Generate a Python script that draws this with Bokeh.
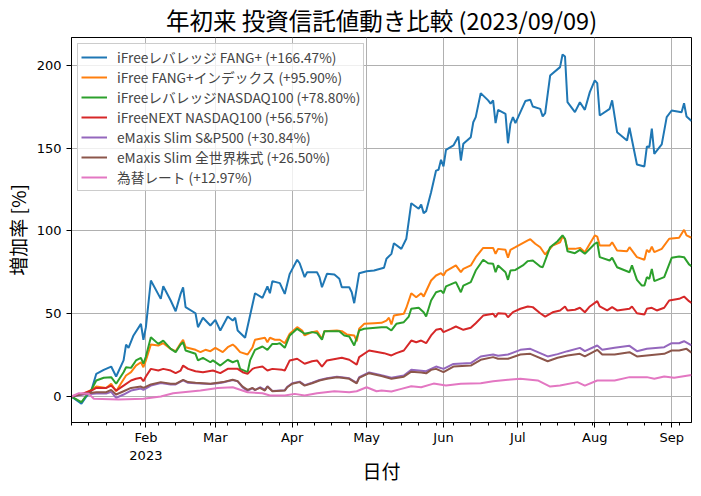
import pandas as pd
from bokeh.plotting import figure
from bokeh.models import Range1d, FixedTicker, Legend, LegendItem
from bokeh.embed import file_html
from bokeh.resources import INLINE

# ---------------- data ----------------
start_date = "2023-01-01"          # day 0 of the day offsets below
x_start, x_end = "2023-01-02", "2023-09-09"
title_text = "年初来 投資信託値動き比較 (2023/09/09)"
x_label = "日付"
y_label = "増加率 [%]"

series_names = ["iFreeレバレッジ FANG+", "iFree FANG+インデックス", "iFreeレバレッジNASDAQ100",
                "iFreeNEXT NASDAQ100", "eMaxis Slim S&P500", "eMaxis Slim 全世界株式", "為替レート"]
final_pct = [166.47, 95.90, 78.80, 56.57, 30.84, 26.50, 12.97]
colors = ["#1f77b4", "#ff7f0e", "#2ca02c", "#d62728", "#9467bd", "#8c564b", "#e377c2"]

blue_day = [1,5,7,9,11,14,17,19,22,23,24,26,29,30,31,33,37,38,41,43,45,46,47,51,52,54,57,59,61,64,
            66,67,68,71,73,75,78,80,81,82,85,87,89,92,93,95,96,100,101,102,104,107,109,110,113,114,115,117,120,123,
            127,128,130,131,134,136,138,141,142,143,144,146,148,149,150,151,152,155,157,158,159,162,163,164,166,169,170,171,172,173,
            176,177,178,179,180,184,186,187,190,191,192,194,198,199,200,201,204,206,208,210,212,213,214,218,219,221,225,226,229,232,
            233,234,235,236,239,241,243,247,248,249,251]
blue_val = [0,-4.4,0,3.6,13.7,16.1,18.1,12.1,21.8,31.4,29.4,36.9,43.9,34.3,41.9,70.1,59,66.6,58,51.5,
            62,66,54,50.3,41.9,47.6,42.9,46.3,39.9,48.3,45.9,47.6,39.9,35.5,48.9,62.4,59.6,66.5,62.4,69.7,
            68.5,62,74.1,82.6,80.5,72.1,75.1,75.1,72.1,66,74.1,73.7,71.1,66,66,63,56.4,74.5,75.7,76.1,
            77.8,83.2,86.2,92.6,89.2,95.3,116.8,113.4,116,110.8,112,123.4,136.5,137,143,139,149,151.7,157.1,142.6,
            152.7,156.7,165.7,168.8,183.3,178.9,176.9,178.9,165.2,173.2,170.8,153,164.8,168.8,165.2,178.5,179.3,175.2,173.8,169.2,
            171.2,193.9,199,206.6,205.4,177.8,171.8,177.8,173.2,183.9,191,189.3,169.8,173.8,178.9,159.7,154.7,162.4,140.2,139,
            151,150.7,161.8,146.6,152.3,168.8,172.8,171.8,177.2,169.2,166.47]

orange_day = [1,6,9,11,15,17,19,21,23,25,27,29,30,31,33,36,38,41,43,45,46,47,51,53,55,57,59,62,64,66,
              67,69,72,74,75,79,80,81,83,85,87,89,92,94,95,98,100,102,103,108,110,112,115,116,117,119,123,126,128,129,
              130,131,135,136,138,140,142,143,146,148,150,151,152,156,158,159,162,164,167,171,172,173,176,177,178,180,185,186,188,190,
              192,195,198,199,200,201,204,206,208,210,212,213,214,218,219,221,225,226,229,232,233,234,235,236,239,242,246,248,249,251]
orange_val = [0,1.6,4,6,5.2,7.7,3.2,8,12.7,14.7,18.7,20.7,17.7,21.8,31.4,30.8,32.2,28.8,27.4,32.2,
              34.3,29.8,28.2,26.8,28.2,27.4,29.4,26.8,29.8,31.4,30.2,26.8,25.4,29.8,34.3,35.5,32.8,35.5,34.3,34.3,
              32.2,37.9,41.9,39.9,36.9,38.9,39.5,34.9,39.5,39.9,39.5,37.5,36.9,33.4,40.9,43.9,44.3,44.5,45.9,47.6,
              43.5,48.9,50,53.5,62.4,60,62.4,60.4,70.1,73.1,74.5,73.1,75.7,79.2,75.1,77.1,79.2,84.2,89.8,89.8,
              86.2,89.2,88.6,83.8,88.6,90.2,94.3,95,92.3,90.2,85.8,91.2,93.2,96.6,94.9,89.2,89.2,89.8,87.2,92.3,
              97.3,96.6,91.2,91.2,93.2,88.2,87.8,90.2,84.2,82.6,88.6,87.2,90.6,87.2,89.2,95.3,95.9,100.7,97.3,95.9]

green_day = [1,5,7,9,11,14,17,19,22,23,25,27,29,30,31,33,36,38,41,43,45,46,47,51,52,54,57,58,61,64,
             66,68,69,72,73,75,78,80,82,84,85,87,89,92,95,98,100,102,103,109,111,113,115,117,119,126,128,130,132,135,
             137,138,141,143,144,146,148,150,151,152,156,158,159,162,164,167,169,171,172,173,176,177,178,180,183,185,187,190,191,194,
             197,199,200,201,204,206,208,212,213,214,218,219,221,226,227,229,231,232,233,234,235,236,240,243,246,248,250,251]
green_val = [0,-3.4,0.6,4,9.7,11.3,11.7,7.7,14.7,17.7,17.3,21.8,23.4,19.8,24.2,35.8,31.8,33.8,28.8,26.8,
             31.4,32.8,27.8,25.8,21.8,23.4,20.7,21.8,18.7,22.2,20.7,21.8,16.7,14.7,21.8,28.2,30.2,28.2,31.8,31.8,
             32.2,29.4,36.9,40.9,37.9,38.9,38.3,34.3,39.5,39.5,36.9,36.3,30.8,39.9,40.9,41.9,41.9,39.9,43.9,44.9,
             48.3,53,53.6,50.9,48.3,58,63,64,62.4,66.5,69.1,63,67,69.1,76.1,82.6,80.5,80.2,75.1,79.2,
             75.1,70.5,76.1,76.5,79.2,81.8,82.2,78.5,78.1,90.2,93.8,97.3,95.3,87.8,86.6,88.6,86.2,92.3,93.2,84.2,
             82.2,83.8,78.1,75.1,79.2,70.5,67,67,72.1,71.1,77.1,69.7,72.1,83.8,84.6,84.2,79.8,78.8]

red_day = [1,6,9,11,15,17,19,22,25,27,29,30,31,33,36,38,41,43,45,46,48,51,54,58,61,64,68,70,72,74,
           75,78,80,82,86,87,89,92,95,98,100,102,104,110,113,116,117,121,127,130,132,135,138,140,142,144,146,148,150,151,
           154,156,159,162,164,167,171,172,173,176,177,179,182,185,187,190,192,195,198,200,201,204,206,208,210,213,214,217,219,221,
           226,227,229,232,233,235,237,240,242,246,248,250,251]
red_val = [0,2,3.6,5.2,5.2,6.6,3.6,6.6,9.7,10.7,11.3,9.2,12.1,16.7,15.7,16.7,15.7,14.1,15.7,18.7,
           16.7,15.3,14.7,15.7,14.1,16.7,16.7,14.7,13.7,16.7,17.3,18.1,15.7,16.7,16.1,15.7,21.8,22.8,19.8,21.3,
           21.8,18.1,21.8,23.4,22.2,19.3,23.8,27.8,26.2,24.8,26.2,27.8,33.8,32.8,33.8,32.2,36.9,40.3,40.9,38.9,
           40.9,42.3,40.3,41.5,44.3,48.9,50,48,50.3,50,47.9,51,53,54.4,54,50.3,48.3,50.9,52,54.4,
           52,52.4,53.6,50.9,54.4,57.6,54.4,52,54,52,53,54.4,50.3,49.5,53,53.6,52,53.6,58,59,
           60.4,57.6,56.57]

purple_day = [1,6,11,15,17,19,22,25,29,30,33,37,41,43,46,48,51,57,60,62,66,68,70,72,74,75,77,79,80,82,
              87,88,90,93,95,98,101,104,108,110,113,116,117,121,126,130,135,138,142,144,148,151,155,162,166,171,173,177,182,186,
              193,197,201,206,208,213,215,220,226,229,233,240,243,246,248,251]
purple_val = [0,1.2,1.8,1.8,2.8,-0.8,1.2,3.6,4.8,4.0,6.6,8.2,7.3,7.3,9.7,8.3,8.0,7.5,8.0,8.5,
              9.9,9.2,5.5,3.4,5.0,3.8,5.6,4.0,6.2,3.4,3.8,5.8,8.0,9.0,6.9,8.3,10.0,11.0,12.0,11.6,
              11.0,8.3,11.7,14.6,12.8,11.4,12.7,16.1,15.6,15.3,18.1,16.7,19.7,20.2,24.2,25.4,24.6,25.4,28.2,28.8,
              24.2,25.6,27.4,29.4,27.4,30.8,28.2,29.4,30.6,27.4,28.8,29.8,32.2,32.2,33.4,30.84]

brown_day = [1,6,11,15,17,19,22,25,29,30,33,37,41,43,46,48,51,57,60,62,66,68,70,72,74,75,77,79,80,82,
             87,88,90,93,95,98,101,104,108,110,113,116,117,121,126,130,135,138,142,144,146,148,151,155,162,166,171,173,177,182,
             186,193,197,201,206,208,213,215,220,226,229,233,237,240,243,246,249,251]
brown_val = [0,1.6,2.6,2.6,4,1.2,3.2,5.2,6,5.2,7.3,8.7,7.7,7.7,10.1,8.7,8.3,7.7,8.3,8.7,
             10.1,9.3,6,4,5.2,4,5.2,3.6,6,3.2,3.6,5.6,7.7,8.7,6.6,8,9.7,10.7,11.7,11.3,
             10.7,8,11.3,14.1,12.4,10.7,12,15,14.5,14,16.1,16.7,14.7,18.1,18.7,22.2,23.8,22.8,22.8,25.4,
             25.8,21.3,23.4,24.8,25.8,24.2,28.2,25.4,25.4,26.8,24.2,24.8,25.4,25.8,27.8,27.8,28.8,26.5]

pink_day = [1,4,8,10,20,30,37,42,53,60,66,72,78,81,87,91,95,100,107,113,
            116,120,124,126,130,134,138,142,147,152,158,166,171,177,182,189,194,198,205,208,
            213,220,226,233,236,240,244,251]
pink_val = [0,2.0,1.6,-1.4,-1.8,-1.4,0,2.0,3.6,5.2,5.6,2.6,2.0,0.6,0.6,1.6,0.6,2.0,3.2,2.6,
            3.2,5.6,3.2,3.6,3.0,4.6,6.2,5.6,7.8,6.6,7.7,8.0,9.2,10.1,10.7,9.7,6.0,6.6,8.7,6.6,
            9.7,9.7,11.7,11.7,10.7,12.1,11.3,12.97]

all_days = [blue_day, orange_day, green_day, red_day, purple_day, brown_day, pink_day]
all_vals = [blue_val, orange_val, green_val, red_val, purple_val, brown_val, pink_val]

month_ticks = ["2023-02-01", "2023-03-01", "2023-04-01", "2023-05-01",
               "2023-06-01", "2023-07-01", "2023-08-01", "2023-09-01"]
month_labels = ["Feb\n2023", "Mar", "Apr", "May", "Jun", "Jul", "Aug", "Sep"]
y_ticks = [0, 50, 100, 150, 200]
y_min, y_max = -15.7, 216.9

# ---------------- helpers ----------------
base = pd.Timestamp(start_date)


def ms(ts):
    return pd.Timestamp(ts).value / 1e6


def to_dates(days):
    return pd.to_datetime([base + pd.Timedelta(days=d) for d in days])


JP = "Noto Sans CJK JP"

p = figure(x_axis_type="datetime", frame_width=620, frame_height=385,
           output_backend="svg", toolbar_location=None,
           x_range=Range1d(ms(x_start), ms(x_end)), y_range=Range1d(y_min, y_max),
           min_border_left=68, min_border_right=1, min_border_top=28, min_border_bottom=72,
           background_fill_color="white", border_fill_color="white")

p.title.text = title_text
p.title.text_font = JP
p.title.text_font_size = "23.5px"
p.title.text_font_style = "normal"
p.title.align = "center"
p.title.text_color = "black"
p.title.standoff = 1
p.title.offset = 0

p.outline_line_color = "black"
p.outline_line_alpha = 1
p.outline_line_width = 1

renderers = []
for days, vals, col in zip(all_days, all_vals, colors):
    r = p.line(to_dates(days), vals, line_color=col, line_width=2)
    renderers.append(r)

month_ms = [ms(t) for t in month_ticks]
monday_ms = [ms(t) for t in pd.date_range(x_start, x_end, freq="W-MON")]

p.xaxis.ticker = FixedTicker(ticks=month_ms, minor_ticks=monday_ms)
p.xaxis.major_label_overrides = {m: lab for m, lab in zip(month_ms, month_labels)}
p.xgrid.ticker = FixedTicker(ticks=month_ms)
p.yaxis.ticker = FixedTicker(ticks=y_ticks)
p.ygrid.ticker = FixedTicker(ticks=y_ticks)

for ax in (p.xaxis[0], p.yaxis[0]):
    ax.axis_line_color = "black"
    ax.major_tick_line_color = "black"
    ax.minor_tick_line_color = "black"
    ax.major_tick_out = 5
    ax.major_tick_in = 0
    ax.minor_tick_out = 3
    ax.minor_tick_in = 0
    ax.major_label_text_font = "DejaVu Sans"
    ax.major_label_text_font_size = "13px"
    ax.major_label_text_color = "black"
    ax.axis_label_text_font = JP
    ax.axis_label_text_font_size = "19px"
    ax.axis_label_text_font_style = "normal"
    ax.axis_label_text_color = "black"

p.yaxis.minor_tick_line_color = None
p.xaxis.axis_label = x_label
p.yaxis.axis_label = y_label
p.xaxis.major_label_standoff = 2
p.yaxis.major_label_standoff = 5
p.xaxis.axis_label_standoff = -9
p.yaxis.axis_label_standoff = 3

for g in (p.xgrid[0], p.ygrid[0]):
    g.grid_line_color = "#b0b0b0"
    g.grid_line_width = 1

items = [LegendItem(label=f"{n} (+{v:.2f}%)", renderers=[r])
         for n, v, r in zip(series_names, final_pct, renderers)]
legend = Legend(items=items, location="top_left", margin=6, padding=3,
                spacing=0, glyph_width=26, glyph_height=14, label_height=14,
                label_standoff=10, label_text_font=JP, label_text_font_size="13.7px",
                border_line_color="#cccccc", border_line_alpha=1,
                background_fill_color="white", background_fill_alpha=0.8)
p.add_layout(legend)

open("out.html", "w").write(file_html(p, INLINE))
